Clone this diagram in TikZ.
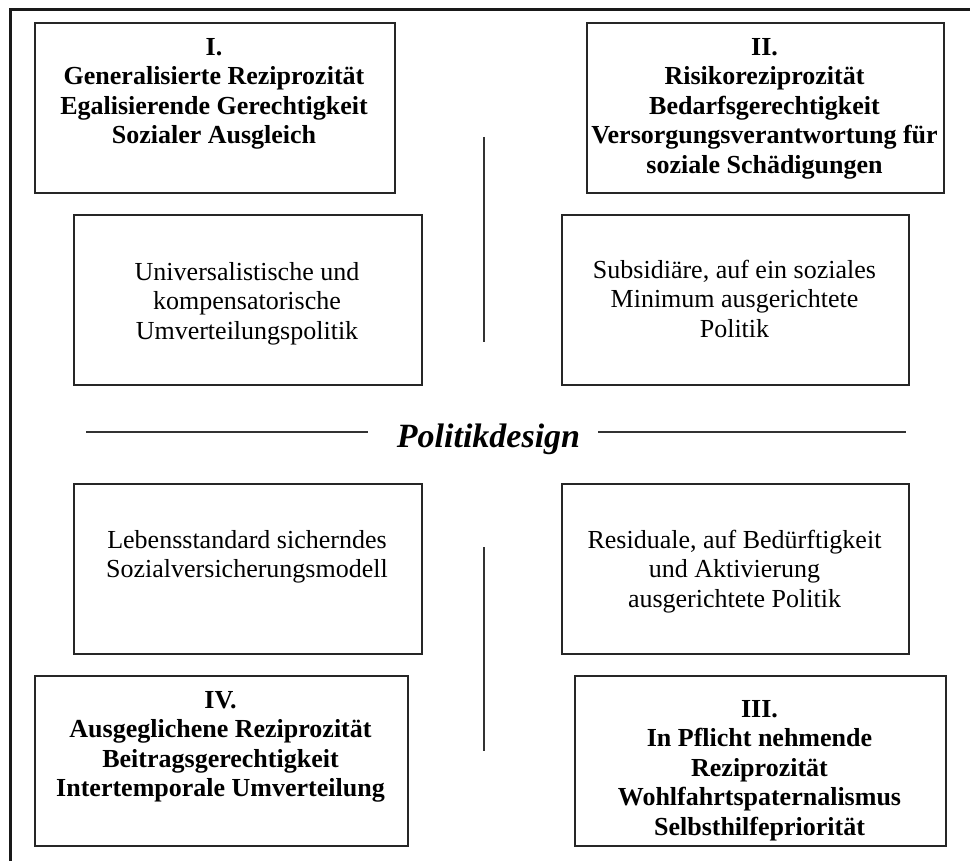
\documentclass[tikz,border=0pt]{standalone}
\usepackage{fontspec}
\setmainfont{Liberation Serif}
\begin{document}
\begin{tikzpicture}[x=1pt,y=-1pt,
  boxframe/.style={draw=black!85, line width=1.8pt, inner sep=0pt, anchor=north west},
  headtext/.style={align=center, inner sep=0pt, anchor=north, font=\fontsize{26}{29.5}\selectfont\bfseries},
  bodytext/.style={align=center, inner sep=0pt, anchor=north, font=\fontsize{26}{29.5}\selectfont},
  sepline/.style={draw=black!80, line width=1.5pt},
  outerline/.style={draw=black!90, line width=2.5pt}]
\useasboundingbox (0,0) rectangle (970,861);
% outer frame (top and left)
\coordinate (fTR) at (970,9.7);
\coordinate (fTL) at (10.3,9.7);
\coordinate (fBL) at (10.3,861);
\draw[outerline] (fTR) -- (fTL) -- (fBL);
% boxes
\node[boxframe, minimum width=360pt, minimum height=170pt] (b1) at (34,22) {};
\node[boxframe, minimum width=357pt, minimum height=170pt] (b2) at (586,22) {};
\node[boxframe, minimum width=348pt, minimum height=170pt] (m1) at (73,214) {};
\node[boxframe, minimum width=347pt, minimum height=170pt] (m2) at (561,214) {};
\node[boxframe, minimum width=348pt, minimum height=170pt] (m4) at (73,483) {};
\node[boxframe, minimum width=347pt, minimum height=170pt] (m3) at (561,483) {};
\node[boxframe, minimum width=373pt, minimum height=170pt] (b4) at (34,675) {};
\node[boxframe, minimum width=371pt, minimum height=170pt] (b3) at (574,675) {};
% texts
\node[headtext] (t1) at (214,35) {\rule{0pt}{20pt}I.\\Generalisierte Reziprozität\\Egalisierende Gerechtigkeit\\Sozialer Ausgleich};
\node[headtext] (t2) at (764.5,35) {\rule{0pt}{20pt}II.\\Risikoreziprozität\\Bedarfsgerechtigkeit\\Versorgungsverantwortung für\\soziale Schädigungen};
\node[bodytext] (tm1) at (247,260) {\rule{0pt}{20pt}Universalistische und\\kompensatorische\\Umverteilungspolitik};
\node[bodytext] (tm2) at (734.5,258) {\rule{0pt}{20pt}Subsidiäre, auf ein soziales\\Minimum ausgerichtete\\Politik};
\node[bodytext] (tm4) at (247,528) {\rule{0pt}{20pt}Lebensstandard sicherndes\\Sozialversicherungsmodell};
\node[bodytext] (tm3) at (734.5,528) {\rule{0pt}{20pt}Residuale, auf Bedürftigkeit\\und Aktivierung\\ausgerichtete Politik};
\node[headtext] (t4) at (220.5,688) {\rule{0pt}{20pt}IV.\\Ausgeglichene Reziprozität\\Beitragsgerechtigkeit\\Intertemporale Umverteilung};
\node[headtext] (t3) at (759.5,697) {\rule{0pt}{20pt}III.\\In Pflicht nehmende\\Reziprozität\\Wohlfahrtspaternalismus\\Selbsthilfepriorität};
% Politikdesign
\node[inner sep=0pt, anchor=base, font=\fontsize{34}{40}\selectfont\bfseries\itshape] (pd) at (488.5,447) {Politikdesign};
\coordinate (pdL1) at (86,432);
\coordinate (pdL2) at (368,432);
\coordinate (pdR1) at (598,432);
\coordinate (pdR2) at (906,432);
\draw[sepline] (pdL1) -- (pdL2);
\draw[sepline] (pdR1) -- (pdR2);
% vertical separators
\coordinate (v1a) at (484,137);
\coordinate (v1b) at (484,342);
\coordinate (v2a) at (484,547);
\coordinate (v2b) at (484,751);
\draw[sepline] (v1a) -- (v1b);
\draw[sepline] (v2a) -- (v2b);
\end{tikzpicture}
\end{document}
